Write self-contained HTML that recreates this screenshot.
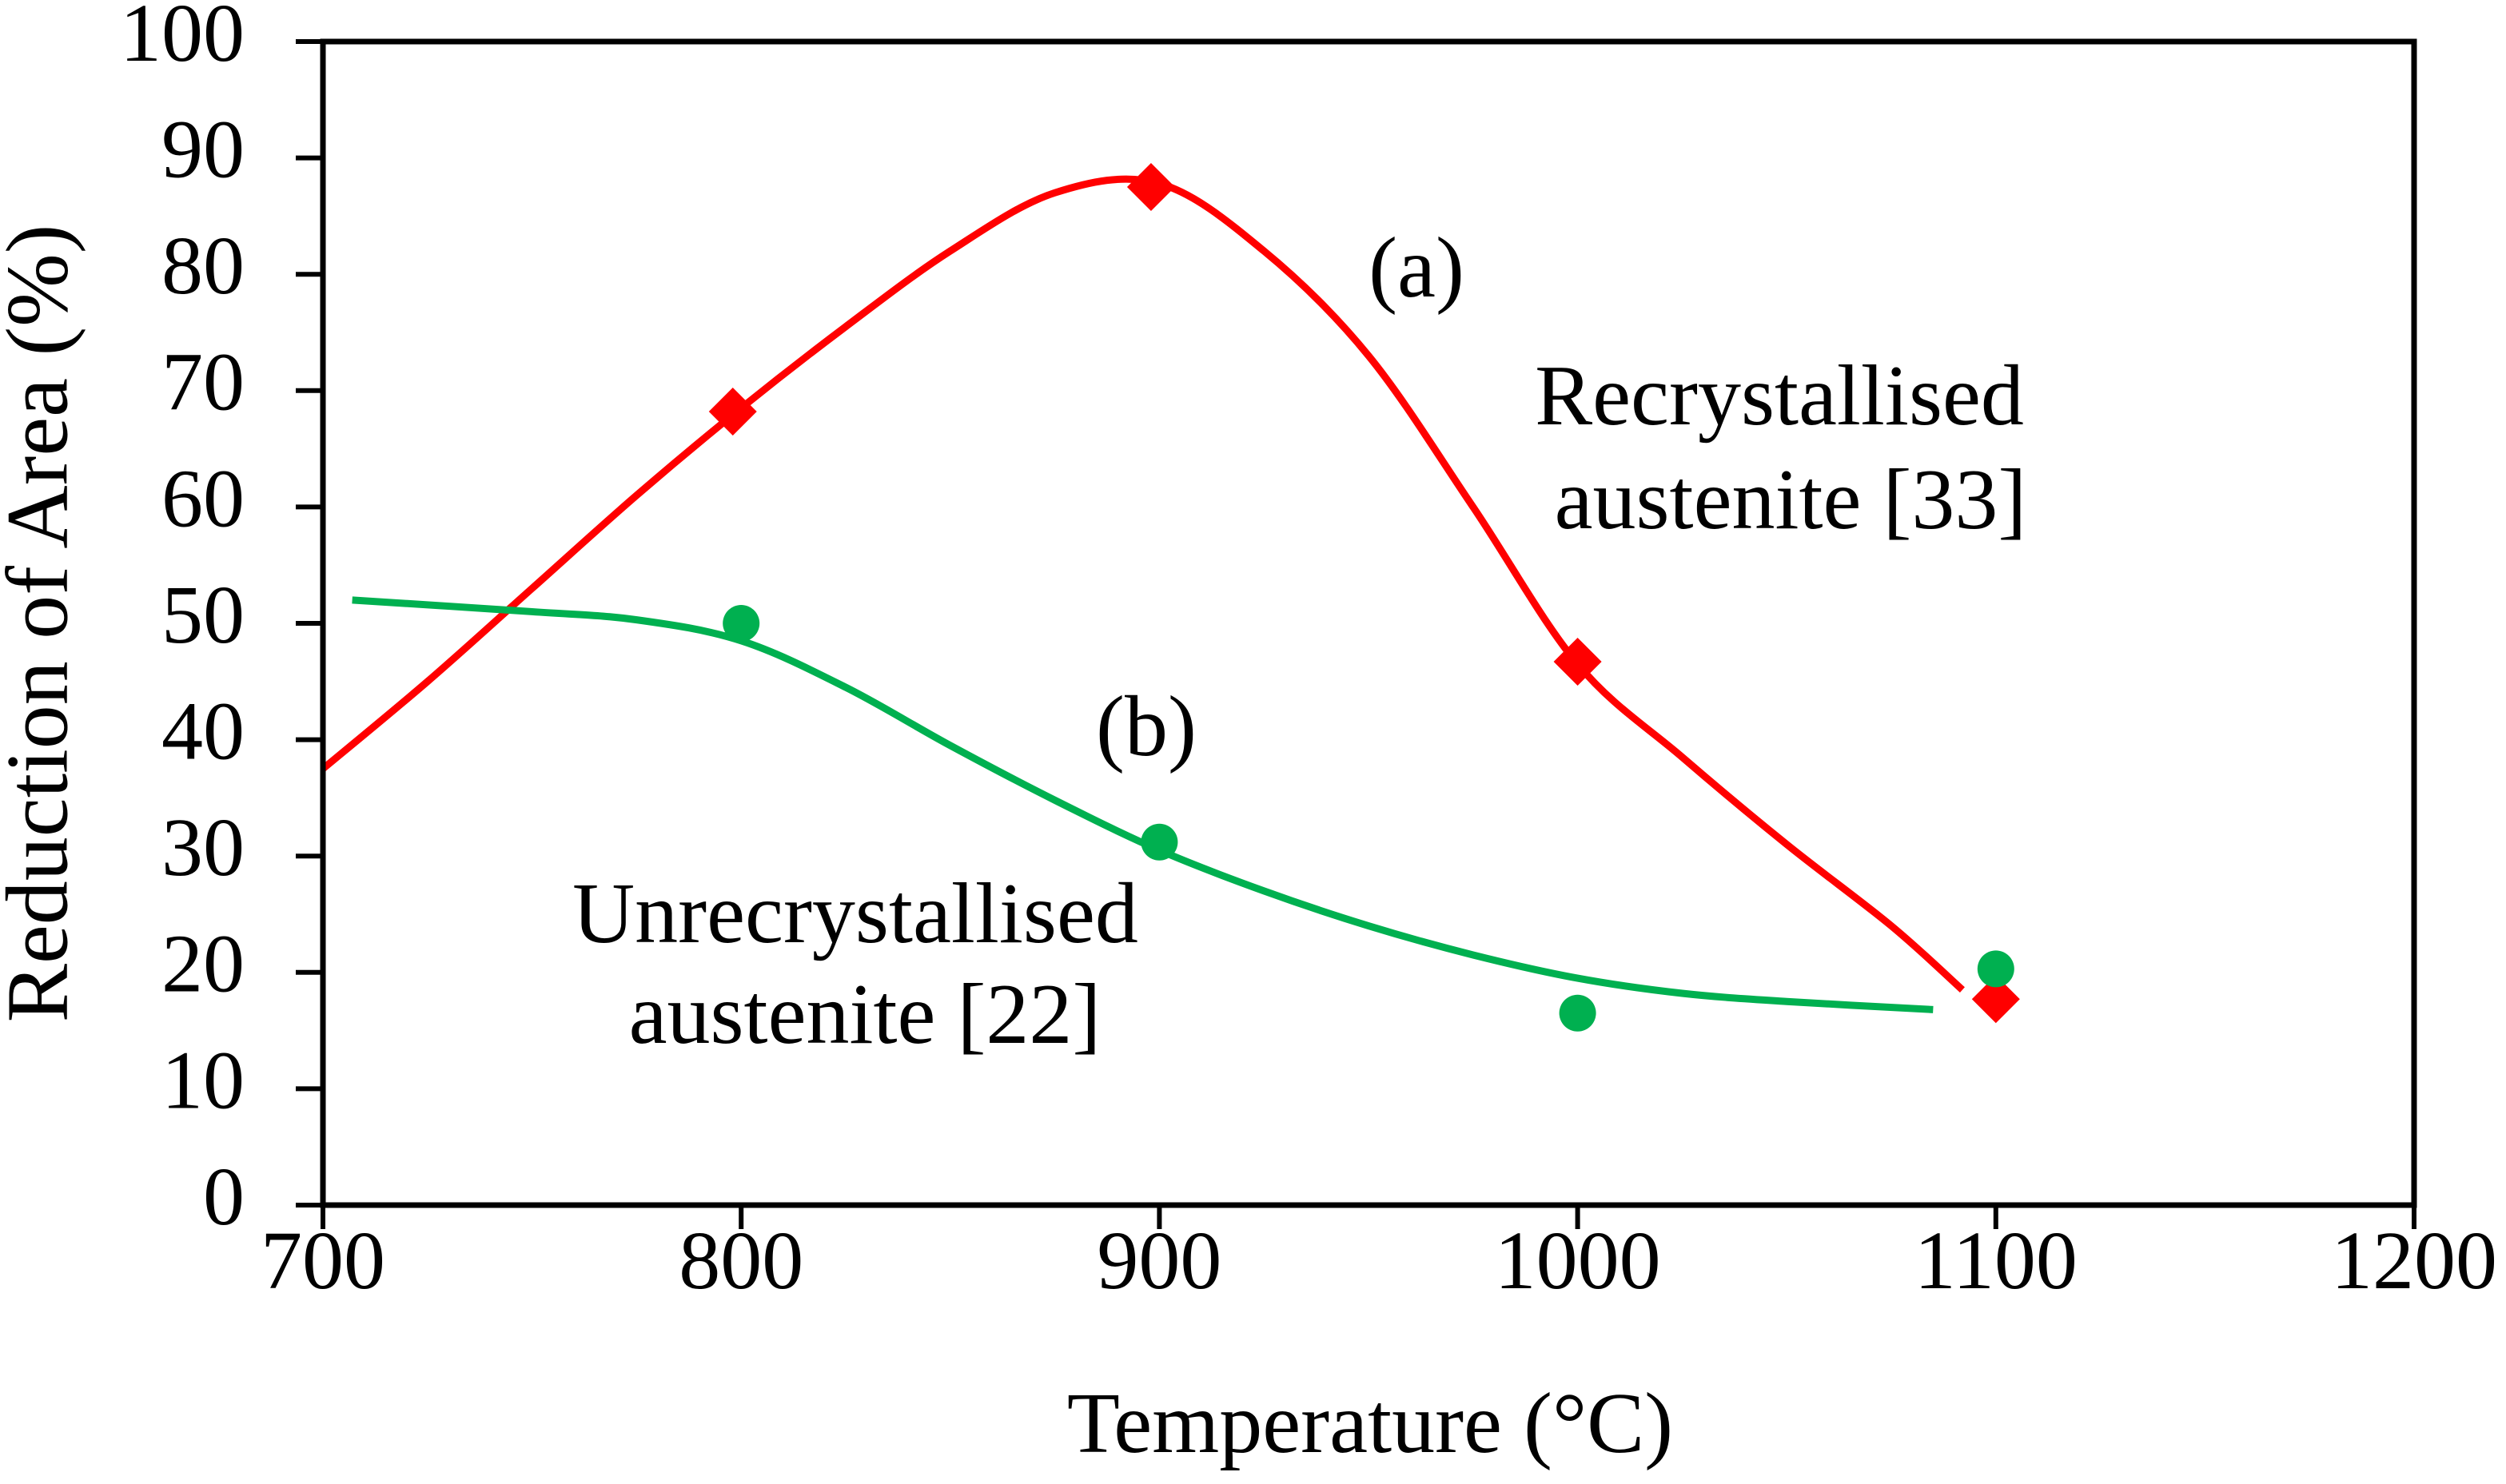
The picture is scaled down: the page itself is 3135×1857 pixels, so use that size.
<!DOCTYPE html>
<html><head><meta charset="utf-8"><style>
html,body{margin:0;padding:0;background:#fff}
svg{display:block}
text{font-family:"Liberation Serif",serif;fill:#000}
</style></head><body>
<svg id="chart" width="3135" height="1857" viewBox="0 0 3135 1857" xmlns="http://www.w3.org/2000/svg">
<rect width="3135" height="1857" fill="#fff"/>
<g id="series"></g>
<g id="axes"></g>
<text x="1772" y="346" font-size="108" text-anchor="middle" dominant-baseline="middle">(a)</text>
<text x="2226" y="506" font-size="108" text-anchor="middle" dominant-baseline="middle">Recrystallised</text>
<text x="2240" y="636" font-size="108" text-anchor="middle" dominant-baseline="middle">austenite [33]</text>
<text x="1434" y="920" font-size="108" text-anchor="middle" dominant-baseline="middle">(b)</text>
<text x="1070" y="1154" font-size="108" text-anchor="middle" dominant-baseline="middle">Unrecrystallised</text>
<text x="1082" y="1280" font-size="108" text-anchor="middle" dominant-baseline="middle">austenite [22]</text>
<text x="1714" y="1792" font-size="108" text-anchor="middle" dominant-baseline="middle">Temperature (°C)</text>
<text transform="translate(58,780) rotate(-90)" font-size="110" text-anchor="middle" dominant-baseline="middle">Reduction of Area (%)</text>
</svg>
<script>
const xTicks = [700, 800, 900, 1000, 1100, 1200];
const yTicks = [0, 10, 20, 30, 40, 50, 60, 70, 80, 90, 100];
const redX = [798, 898, 1000, 1100];
const redY = [68.2, 87.5, 46.7, 17.7];
const greenX = [800, 900, 1000, 1100];
const greenY = [50, 31.2, 16.5, 20.3];
const redCurveX = [700, 725, 750, 775, 800, 825, 850, 875, 900, 925, 950, 975, 1000, 1025, 1050, 1075, 1092];
const redCurveY = [37.5, 45, 53, 61, 68.5, 75.5, 82, 87, 87.8, 82, 73, 60, 46.5, 38.5, 31, 24, 18.5];
const greenCurveX = [707, 750, 775, 800, 825, 850, 875, 900, 925, 950, 975, 1000, 1025, 1050, 1085];
const greenCurveY = [52, 51, 50.3, 48.5, 44.5, 39.5, 34.8, 30.5, 27, 24, 21.5, 19.5, 18.2, 17.5, 16.8];

const L=404, R=3020, T=52, B=1508;
const sx = v => L + (v-700)/500*(R-L);
const sy = v => B - v/100*(B-T);
const NS="http://www.w3.org/2000/svg";
function mk(tag, parent, attrs){const e=document.createElementNS(NS,tag);for(const k in attrs)e.setAttribute(k,attrs[k]);parent.appendChild(e);return e;}
const axes=document.getElementById('axes'), series=document.getElementById('series');

function smooth(xs, ys){
  const p=xs.map((x,i)=>[sx(x),sy(ys[i])]);
  let d=`M${p[0][0]},${p[0][1]}`;
  for(let i=0;i<p.length-1;i++){
    const p0=p[Math.max(i-1,0)],p1=p[i],p2=p[i+1],p3=p[Math.min(i+2,p.length-1)];
    const c1=[p1[0]+(p2[0]-p0[0])/6,p1[1]+(p2[1]-p0[1])/6];
    const c2=[p2[0]-(p3[0]-p1[0])/6,p2[1]-(p3[1]-p1[1])/6];
    d+=` C${c1[0]},${c1[1]} ${c2[0]},${c2[1]} ${p2[0]},${p2[1]}`;
  }
  return d;
}
const rc=mk('path',series,{d:smooth(redCurveX,redCurveY),fill:'none',stroke:'#ff0000','stroke-width':9});


const gc=mk('path',series,{d:smooth(greenCurveX,greenCurveY),fill:'none',stroke:'#00b050','stroke-width':9});


redX.forEach((x,i)=>{
  const cx=sx(x),cy=sy(redY[i]),s=30;
  const m=mk('polygon',series,{points:`${cx},${cy-s} ${cx+s},${cy} ${cx},${cy+s} ${cx-s},${cy}`,fill:'#ff0000'});
  
  
});
greenX.forEach((x,i)=>{
  const m=mk('circle',series,{cx:sx(x),cy:sy(greenY[i]),r:23,fill:'#00b050'});
  
  
});
const frame=mk('rect',axes,{x:L,y:T,width:R-L,height:B-T,fill:'none',stroke:'#000','stroke-width':7});


yTicks.forEach(v=>{
  const y=sy(v);
  const t=mk('line',axes,{x1:L-34,x2:L,y1:y,y2:y,stroke:'#000','stroke-width':6});
  
  
  const l=mk('text',axes,{x:306,y:y,'font-size':104,'text-anchor':'end','dominant-baseline':'middle'});
  l.textContent=v;
  
  
});
xTicks.forEach(v=>{
  const x=sx(v);
  const t=mk('line',axes,{x1:x,x2:x,y1:B,y2:B+30,stroke:'#000','stroke-width':6});
  
  
  const l=mk('text',axes,{x:x,y:1588,'font-size':104,'text-anchor':'middle','dominant-baseline':'middle'});
  l.textContent=v;
  
  
});
</script>
</body></html>
